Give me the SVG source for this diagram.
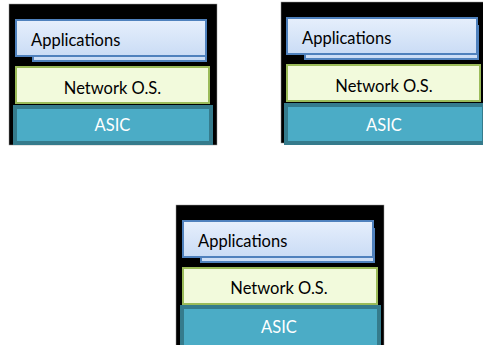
<svg xmlns="http://www.w3.org/2000/svg" width="483" height="345" viewBox="0 0 483 345">
<defs>
<linearGradient id="appg" x1="0" y1="0" x2="0" y2="1">
<stop offset="0" stop-color="#e6effc"/>
<stop offset="1" stop-color="#cadcf5"/>
</linearGradient>
<style>
.bg{fill:#000;stroke:#999;stroke-width:0.5}
.app{fill:url(#appg);stroke:#4f81bd;stroke-width:2}
.nos{fill:#f2fadc;stroke:#9bbb59;stroke-width:2}
.asic{fill:#4bacc6;stroke:#357b8c;stroke-width:4}
text{font-family:Lato,"Open Sans","Liberation Sans",sans-serif;font-size:16.5px}
.lt{fill:#000}
.wt{fill:#fff}
</style>
</defs>
<rect width="483" height="345" fill="#fff"/>
<g id="stack1" transform="translate(9,4)">
<rect class="bg" x="0" y="0" width="208" height="141"/>
<rect class="app" x="24" y="24" width="173" height="33"/>
<rect class="app" x="7" y="16" width="190" height="36"/>
<text class="lt" x="22" y="38" dominant-baseline="middle">Applications</text>
<rect class="nos" x="7" y="63" width="193" height="36"/>
<text class="lt" x="103.5" y="86" text-anchor="middle" dominant-baseline="middle">Network O.S.</text>
<rect class="asic" x="6" y="103" width="196" height="36"/>
<text class="wt" x="103.5" y="123" text-anchor="middle" dominant-baseline="middle">ASIC</text>
</g>
<g id="stack2" transform="translate(281,2)">
<rect class="bg" x="0" y="0" width="208" height="141"/>
<rect class="app" x="24" y="24" width="173" height="33"/>
<rect class="app" x="6" y="16" width="190" height="36"/>
<text class="lt" x="21" y="38" dominant-baseline="middle">Applications</text>
<rect class="nos" x="6" y="63" width="193" height="36"/>
<text class="lt" x="103" y="86" text-anchor="middle" dominant-baseline="middle">Network O.S.</text>
<rect class="asic" x="5" y="103" width="198" height="38"/>
<text class="wt" x="103" y="125" text-anchor="middle" dominant-baseline="middle">ASIC</text>
</g>
<g id="stack3" transform="translate(176,205)">
<rect class="bg" x="0" y="0" width="208" height="141"/>
<rect class="app" x="25" y="24" width="173" height="33"/>
<rect class="app" x="7" y="16" width="190" height="36"/>
<text class="lt" x="22" y="38" dominant-baseline="middle">Applications</text>
<rect class="nos" x="7" y="63" width="194" height="36"/>
<text class="lt" x="103" y="85" text-anchor="middle" dominant-baseline="middle">Network O.S.</text>
<rect class="asic" x="6" y="102" width="197" height="40"/>
<text class="wt" x="103" y="124" text-anchor="middle" dominant-baseline="middle">ASIC</text>
</g>
</svg>
